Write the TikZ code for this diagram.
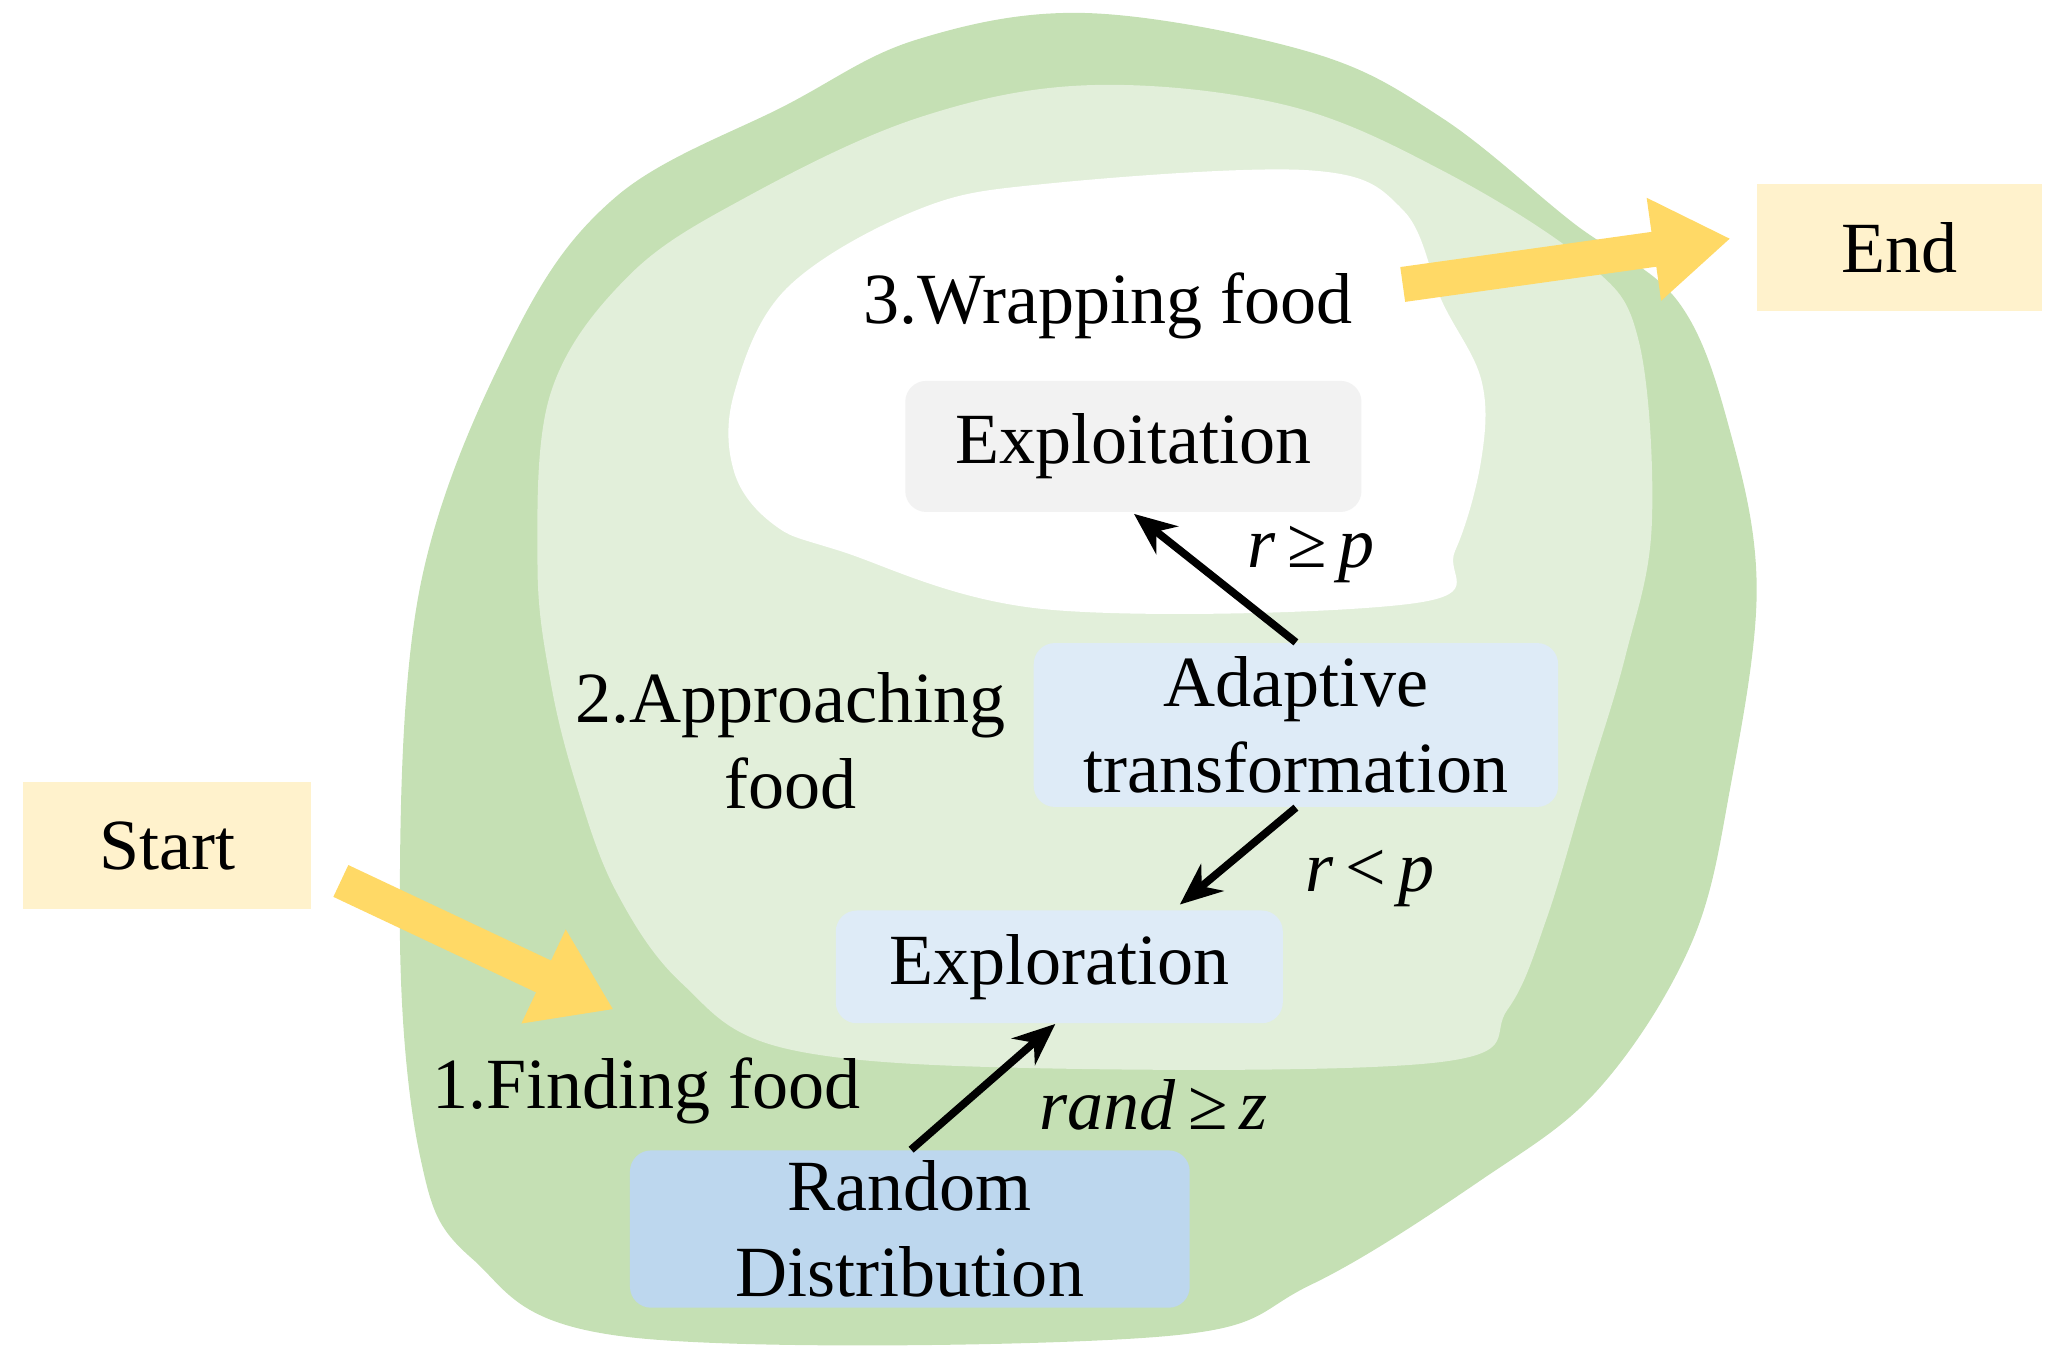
\documentclass[tikz,border=0pt]{standalone}
\usepackage{fontspec}
\setmainfont{Liberation Serif}
\usetikzlibrary{arrows.meta}
\definecolor{gOut}{HTML}{C5E0B4}
\definecolor{gIn}{HTML}{E2EFDA}
\definecolor{bxA}{HTML}{DEEBF7}
\definecolor{bxB}{HTML}{BDD7EE}
\definecolor{bxG}{HTML}{F2F2F2}
\definecolor{yl}{HTML}{FFF2CC}
\definecolor{ya}{HTML}{FFD966}
\begin{document}
\begin{tikzpicture}[x=0.01311cm,y=-0.01311cm,
  txt/.style={font=\fontsize{20.5}{24.5}\selectfont,align=center,inner sep=0},
  box/.style={txt,rounded corners=6pt,anchor=north west},
  blk/.style={line width=2.2pt,-{Stealth[length=12pt,width=10pt]}},
  yarr/.style={ya,line width=10pt,-{Triangle[length=22pt,width=28pt]}}]
\useasboundingbox (0,0) rectangle (1563,1034);
\fill[gOut] plot[smooth cycle,tension=0.6] coordinates{(830,10)(1000,40)(1100,90)(1200,170)(1280,230)(1320,330)(1340,450)(1320,600)(1290,720)(1220,830)(1130,900)(1000,980)(880,1020)(480,1020)(360,960)(320,880)(305,700)(320,450)(390,260)(470,150)(600,80)(700,30)};
\fill[gIn] plot[smooth cycle,tension=0.6] coordinates{(830,65)(980,80)(1100,130)(1210,200)(1250,260)(1260,400)(1240,500)(1210,600)(1180,700)(1150,770)(1100,810)(800,815)(600,800)(520,750)(470,680)(440,600)(420,520)(410,430)(420,300)(480,210)(570,150)(700,90)};
\fill[white] plot[smooth cycle,tension=0.6] coordinates{(560,300)(600,220)(700,160)(800,140)(1000,130)(1070,160)(1100,230)(1130,290)(1130,350)(1110,420)(1080,460)(800,465)(640,420)(590,400)(560,360)};
\node[box,fill=bxG,minimum width=348*0.01311cm,minimum height=100*0.01311cm] (expt) at (690,290) {Exploitation};
\node[box,fill=bxA,minimum width=400*0.01311cm,minimum height=125*0.01311cm] (adap) at (788,490) {Adaptive\\transformation};
\node[box,fill=bxA,minimum width=341*0.01311cm,minimum height=86*0.01311cm] (expl) at (637,694) {Exploration};
\node[box,fill=bxB,minimum width=427*0.01311cm,minimum height=120*0.01311cm] (rand) at (480,877) {Random\\Distribution};
\node[box,rounded corners=0,fill=yl,minimum width=220*0.01311cm,minimum height=97*0.01311cm] (start) at (17,596) {Start};
\node[box,rounded corners=0,fill=yl,minimum width=217*0.01311cm,minimum height=97*0.01311cm] (end) at (1340,140) {End};
\node[txt] (l3) at (845,233) {3.Wrapping food};
\node[txt] (l2) at (603,565) {2.Approaching\\food};
\node[txt] (l1) at (493,832) {1.Finding food};
\node[txt] (c1) at (1000,423) {\textit{r}\,≥\,\textit{p}};
\node[txt] (c2) at (1045,670) {\textit{r}\,<\,\textit{p}};
\node[txt] (c3) at (880,843) {\textit{rand}\,≥\,\textit{z}};
\coordinate (sa) at (260,672); \coordinate (sb) at (468,770);
\coordinate (ea) at (1070,217); \coordinate (eb) at (1320,182);
\draw[yarr] (sa) -- (sb);
\draw[yarr] (ea) -- (eb);
\draw[blk] (rand.north -| 695,0) -- (expl.south -| 805,0);
\draw[blk] (adap.south) -- (900,690);
\draw[blk] (adap.north) -- (865,392);
\end{tikzpicture}
\end{document}
